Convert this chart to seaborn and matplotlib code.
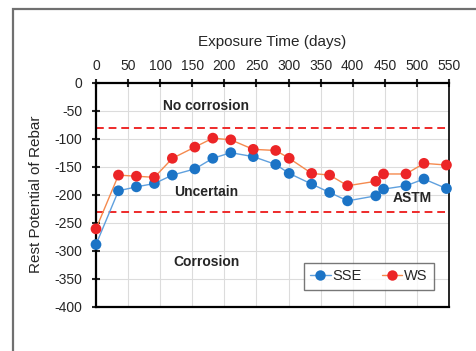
import seaborn as sns
import pandas as pd
import matplotlib
matplotlib.use('Agg')
import matplotlib.pyplot as plt
from matplotlib.lines import Line2D
from matplotlib.patches import Rectangle

days = [0, 35, 63, 91, 119, 154, 182, 210, 245, 280, 301, 336, 364, 392, 436, 448, 483, 511, 546]
sse = [-289, -193, -186, -180, -165, -154, -135, -125, -132, -146, -162, -181, -196, -211, -202, -190, -184, -172, -189]
ws = [-261, -165, -167, -169, -135, -115, -99, -102, -119, -121, -135, -162, -165, -184, -176, -163, -163, -144, -147]

astm_limits = [-80, -230]
zones = ['No corrosion', 'Uncertain', 'Corrosion', 'ASTM']

df = pd.DataFrame({'day': days * 2,
                   'potential': sse + ws,
                   'series': ['SSE'] * len(days) + ['WS'] * len(days)})

sns.set_style('white')
plt.rcParams['font.family'] = ['Liberation Sans', 'DejaVu Sans']
plt.rcParams['axes.unicode_minus'] = False

line_pal = {'SSE': '#5fa0de', 'WS': '#f58a4e'}
dot_pal = {'SSE': '#1c74c6', 'WS': '#ec2527'}

fig = plt.figure(figsize=(4.76, 3.51), dpi=100)
ax = fig.add_axes([96 / 476, 1 - 306.7 / 351, 353 / 476, 224 / 351])

# outer frame (cropped at right/bottom)
fig.patches.append(Rectangle((13 / 476, -0.2), 1.5, 0.2 + 1 - 9 / 351, transform=fig.transFigure,
                             fill=False, edgecolor='#707070', lw=1.6))

for y in astm_limits:
    ax.axhline(y, color='#ee2a2a', lw=1.4, ls=(0, (4, 2.5)), zorder=2)

sns.lineplot(data=df, x='day', y='potential', hue='series', palette=line_pal,
             lw=1.0, legend=False, ax=ax, zorder=3)
sns.scatterplot(data=df, x='day', y='potential', hue='series', palette=dot_pal,
                s=60, linewidth=0, legend=False, ax=ax, zorder=4)
for art in ax.collections + ax.lines:
    art.set_clip_on(False)

ax.set_xlim(0, 550)
ax.set_ylim(-400, 0)
ax.set_xticks(range(0, 551, 50))
ax.set_yticks(range(-400, 1, 50))
ax.grid(True, color='#dcdcdc', lw=0.8)
ax.set_axisbelow(True)

ax.xaxis.tick_top()
ax.xaxis.set_label_position('top')
ax.tick_params(axis='x', which='both', top=True, bottom=False, direction='inout',
               length=6, width=1.5, labelsize=10, pad=4)
ax.tick_params(axis='y', direction='inout', length=6, width=1.5, labelsize=10, pad=7, left=True)
for s in ax.spines.values():
    s.set_color('black')
    s.set_linewidth(1.6)
ax.spines['right'].set_linewidth(1.2)

ax.set_xlabel('Exposure Time (days)', fontsize=11, labelpad=9)
ax.set_ylabel('Rest Potential of Rebar', fontsize=11, labelpad=8)

ax.text(172, -41, zones[0], fontsize=10, fontweight='bold', ha='center', va='center')
ax.text(172, -196, zones[1], fontsize=10, fontweight='bold', ha='center', va='center')
ax.text(172, -321, zones[2], fontsize=10, fontweight='bold', ha='center', va='center')
ax.text(493, -205, zones[3], fontsize=10, fontweight='bold', ha='center', va='center')

handles = [Line2D([], [], color=line_pal[k], lw=1.0, marker='o', markersize=7.5,
                  markerfacecolor=dot_pal[k], markeredgewidth=0) for k in ['SSE', 'WS']]
leg = ax.legend(handles, ['SSE', 'WS'], ncol=2, loc='lower right', bbox_to_anchor=(0.977, 0.043),
                fontsize=10.5, frameon=True, fancybox=False, handlelength=1.4, handletextpad=0.1,
                columnspacing=1.4, borderpad=0.45)
leg.get_frame().set_edgecolor('#555555')
leg.get_frame().set_linewidth(1.0)

fig.savefig('out.png', dpi=100)
